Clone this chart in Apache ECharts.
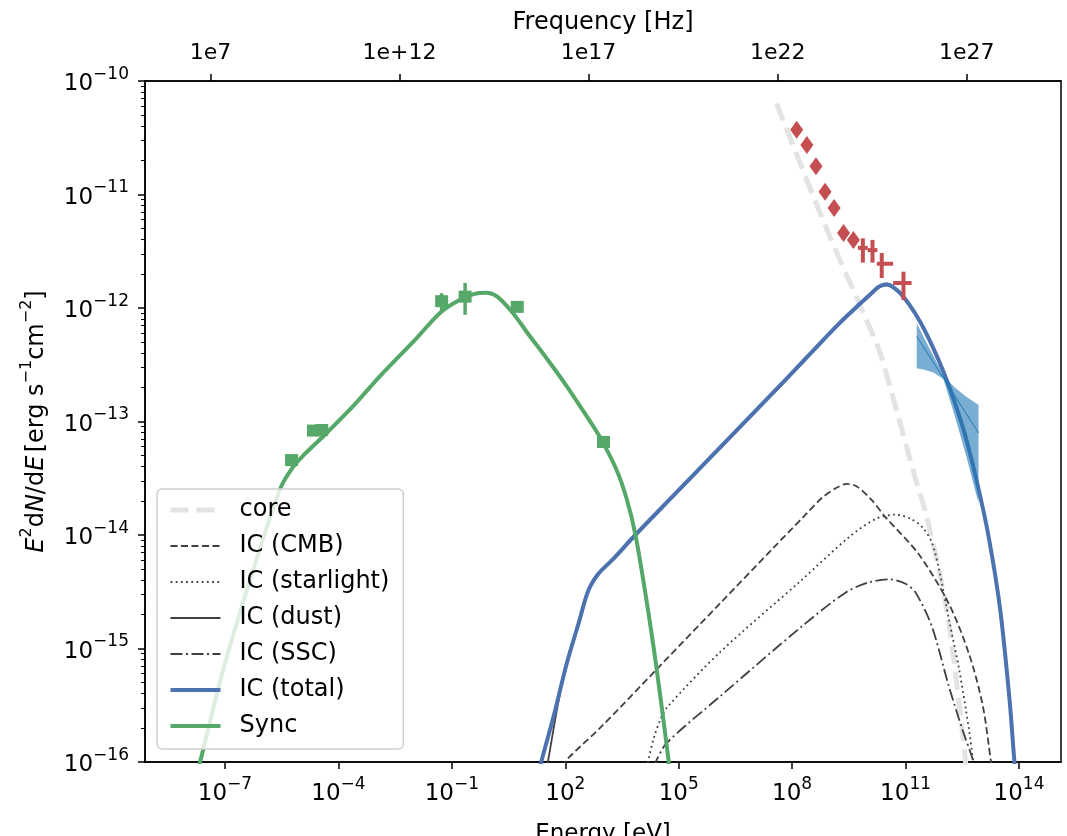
<!DOCTYPE html>
<html>
<head>
<meta charset="utf-8">
<script src="https://cdn.jsdelivr.net/npm/echarts@6/dist/echarts.min.js"></script>
<style>
  html, body { margin: 0; padding: 0; background: #fff; }
  #chart { width: 1067px; height: 836px; }
</style>
</head>
<body>
<div id="chart"></div>
<script>
// all values are log10: energy in eV, flux E^2 dN/dE in erg s^-1 cm^-2
const xRange = [-9.116, 15.111];
const yRange = [-16, -10];
const energyTicks = [-7, -4, -1, 2, 5, 8, 11, 14];
const freqTicks = [7, 12, 17, 22, 27];
const freqLabels = ['1e7', '1e+12', '1e17', '1e22', '1e27'];
const log10h = Math.log10(4.135667696e-15); // eV s

const syncE = [-7.75, -7.66, -7.05, -6.34, -5.55, -5.2, -4.9, -4.4, -3.6, -2.9, -2.0, -1.3, -0.8, -0.4, -0.1, 0.2, 0.63, 1.0, 1.5, 2.0, 2.5, 2.92, 3.36, 3.63, 3.85, 4.16, 4.42, 4.73, 4.76];
const syncF = [-16.1, -16.0, -15.19, -14.4, -13.6, -13.4, -13.29, -13.13, -12.86, -12.6, -12.29, -12.04, -11.93, -11.875, -11.865, -11.9, -12.05, -12.22, -12.44, -12.67, -12.92, -13.14, -13.43, -13.69, -13.99, -14.6, -15.19, -15.98, -16.1];

const icTotalE = [1.3, 1.38, 1.69, 2.04, 2.35, 2.61, 2.88, 3.27, 3.85, 5.48, 7.86, 9.2, 9.8, 10.1, 10.3, 10.5, 10.8, 11.1, 11.4, 11.7, 12.0, 12.3, 12.6, 12.9, 13.2, 13.5, 13.75, 13.88, 13.92];
const icTotalF = [-16.1, -15.98, -15.6, -15.13, -14.78, -14.49, -14.34, -14.21, -14.0, -13.44, -12.62, -12.15, -11.96, -11.87, -11.81, -11.79, -11.85, -11.97, -12.13, -12.33, -12.56, -12.83, -13.15, -13.55, -14.02, -14.65, -15.45, -16.0, -16.1];

const icDustE = [1.5, 1.55, 1.95, 2.35, 2.61, 2.88, 3.27, 3.85, 5.48, 7.86, 9.2, 9.8, 10.1, 10.3, 10.5, 10.8, 11.1, 11.4, 11.7, 12.0, 12.3, 12.6, 12.9, 13.2, 13.5, 13.75, 13.88, 13.92];
const icDustF = [-16.1, -15.98, -15.25, -14.8, -14.5, -14.35, -14.22, -14.01, -13.45, -12.63, -12.16, -11.97, -11.88, -11.82, -11.8, -11.86, -11.98, -12.14, -12.34, -12.57, -12.84, -13.16, -13.56, -14.03, -14.66, -15.46, -16.0, -16.1];

const icCmbE = [1.95, 2.04, 2.92, 4.5, 6.1, 7.5, 8.3, 8.8, 9.2, 9.44, 9.7, 10.1, 10.46, 11.35, 12.15, 12.68, 13.04, 13.26, 13.3];
const icCmbF = [-16.05, -15.98, -15.7, -15.155, -14.6, -14.115, -13.84, -13.67, -13.58, -13.55, -13.57, -13.69, -13.84, -14.17, -14.61, -15.05, -15.5, -16.0, -16.1];

const icStarE = [4.15, 4.2, 4.35, 4.51, 4.69, 6.1, 8.24, 9.5, 10.2, 10.74, 11.15, 11.44, 11.7, 11.89, 12.15, 12.42, 12.68, 12.78, 12.8];
const icStarF = [-16.1, -15.98, -15.78, -15.63, -15.52, -15.03, -14.4, -14.02, -13.86, -13.82, -13.86, -13.93, -14.07, -14.31, -14.75, -15.19, -15.72, -15.98, -16.1];

const icSscE = [4.36, 4.42, 4.69, 6.1, 8.24, 9.4, 10.0, 10.56, 11.0, 11.27, 11.7, 12.15, 12.51, 12.78, 12.81];
const icSscF = [-16.05, -15.98, -15.83, -15.42, -14.81, -14.51, -14.42, -14.39, -14.43, -14.51, -14.81, -15.34, -15.72, -15.98, -16.05];

const coreE = [7.59, 8.92, 9.97, 10.33, 11.25, 11.56, 12.09, 12.53, 12.6];
const coreF = [-10.2, -11.31, -12.11, -12.4, -13.49, -13.84, -14.66, -15.81, -16.05];

// radio / optical / x-ray points: E, F, F low, F high
const syncPtE = [-5.24, -4.66, -4.44, -1.27, -0.65, 0.73, 3.01];
const syncPtF = [-13.34, -13.08, -13.075, -11.94, -11.9, -11.99, -13.18];
const syncPtLo = [-13.36, -13.1, -13.1, -12.04, -12.06, -12.03, -13.2];
const syncPtHi = [-13.32, -13.06, -13.05, -11.87, -11.78, -11.96, -13.16];

// gamma-ray points (diamonds)
const latE = [8.12, 8.39, 8.63, 8.87, 9.11, 9.36, 9.62];
const latF = [-10.43, -10.564, -10.75, -10.975, -11.12, -11.34, -11.4];

// gamma-ray points with error bars: E, F, E low, E high, F low, F high
const vheE = [9.87, 10.125, 10.37, 10.945];
const vheF = [-11.47, -11.49, -11.61, -11.78];
const vheELo = [9.74, 9.995, 10.24, 10.67];
const vheEHi = [10.0, 10.255, 10.67, 11.16];
const vheFLo = [-11.6, -11.6, -11.736, -11.93];
const vheFHi = [-11.386, -11.4, -11.515, -11.68];

// butterfly
const bfE = [11.295, 11.5, 11.75, 12.0, 12.3, 12.6, 12.93];
const bfUpper = [-12.135, -12.27, -12.43, -12.595, -12.7, -12.78, -12.855];
const bfLower = [-12.53, -12.545, -12.57, -12.625, -12.95, -13.3, -13.72];
const bfLineE = [11.295, 12.93];
const bfLineF = [-12.25, -13.1];

const FONT = 'DejaVu Sans';
const zip = (a, b) => a.map((v, i) => [v, b[i]]);

const minorTicks = [];
for (let n = -16; n < -10; n++) {
  for (let k = 2; k <= 9; k++) minorTicks.push(n + Math.log10(k));
}

const supRich = {
  m: { fontSize: 23, fontFamily: FONT, color: '#000', lineHeight: 30, verticalAlign: 'bottom' },
  s: { fontSize: 17, fontFamily: FONT, color: '#000', lineHeight: 17, verticalAlign: 'top' }
};
const powLabel = v => '{m|10}{s|' + String(Math.round(v)).replace('-', '\u2212') + '}';

const chart = echarts.init(document.getElementById('chart'));

const thin = '#404040';
const styles = {
  'core': { color: '#e3e3e3', width: 5, type: [18, 8] },
  'IC (CMB)': { color: thin, width: 1.8, type: [7, 3.5] },
  'IC (starlight)': { color: thin, width: 1.8, type: [1.8, 3.4] },
  'IC (dust)': { color: thin, width: 1.8, type: 'solid' },
  'IC (SSC)': { color: thin, width: 1.8, type: [12, 3.5, 2, 3.5] },
  'IC (total)': { color: '#4c72b0', width: 4, type: 'solid' },
  'Sync': { color: '#55a868', width: 4, type: 'solid' }
};

const lineSeries = (name, e, f, z) => ({
  name: name,
  type: 'line',
  data: zip(e, f),
  symbol: 'none',
  smooth: 0.3,
  clip: true,
  z: z,
  lineStyle: Object.assign({ cap: 'butt' }, styles[name]),
  itemStyle: { color: styles[name].color }
});

const errorBars = (color, width) => (params, api) => {
  const x = api.value(0), y = api.value(1);
  const children = [];
  const v1 = api.coord([x, api.value(2)]), v2 = api.coord([x, api.value(3)]);
  children.push({ type: 'line', shape: { x1: v1[0], y1: v1[1], x2: v2[0], y2: v2[1] }, style: { stroke: color, lineWidth: width } });
  if (api.value(4) !== api.value(5)) {
    const h1 = api.coord([api.value(4), y]), h2 = api.coord([api.value(5), y]);
    children.push({ type: 'line', shape: { x1: h1[0], y1: h1[1], x2: h2[0], y2: h2[1] }, style: { stroke: color, lineWidth: width } });
  }
  return { type: 'group', children: children };
};

const legendNames = ['core', 'IC (CMB)', 'IC (starlight)', 'IC (dust)', 'IC (SSC)', 'IC (total)', 'Sync'];

const option = {
  animation: false,
  backgroundColor: '#fff',
  grid: {
    left: 145, right: 6, top: 81, bottom: 74,
    outerBoundsMode: 'none',
    show: true, borderColor: '#000', borderWidth: 1.5, backgroundColor: 'transparent'
  },
  legend: {
    orient: 'vertical',
    left: 157, top: 489,
    itemWidth: 50, itemHeight: 22, itemGap: 12,
    padding: [9, 14, 11, 11],
    backgroundColor: 'rgba(255,255,255,0.8)',
    borderColor: '#d0d0d0', borderWidth: 1.5, borderRadius: 5,
    itemStyle: { opacity: 0 },
    textStyle: { fontSize: 24, lineHeight: 22, fontFamily: FONT, color: '#000', padding: [0, 0, 0, 14] },
    data: legendNames.map(n => ({ name: n, lineStyle: styles[n], itemStyle: { opacity: 0 } }))
  },
  xAxis: [
    {
      type: 'value', position: 'bottom', min: xRange[0], max: xRange[1],
      name: 'Energy [eV]', nameLocation: 'middle', nameGap: 61,
      nameTextStyle: { fontSize: 23, fontFamily: FONT, color: '#000' },
      axisLine: { onZero: false, lineStyle: { color: '#000', width: 1.5 } },
      axisTick: { customValues: energyTicks, length: 7, lineStyle: { color: '#000', width: 1.5 } },
      axisLabel: { customValues: energyTicks, margin: 14, formatter: powLabel, rich: supRich },
      splitLine: { show: false }
    },
    {
      type: 'value', position: 'top', min: xRange[0], max: xRange[1],
      name: 'Frequency [Hz]', nameLocation: 'middle', nameGap: 46,
      nameTextStyle: { fontSize: 24, fontFamily: FONT, color: '#000' },
      axisLine: { onZero: false, lineStyle: { color: '#000', width: 1.5 } },
      axisTick: { customValues: freqTicks.map(n => n + log10h), length: 7, lineStyle: { color: '#000', width: 1.5 } },
      axisLabel: {
        customValues: freqTicks.map(n => n + log10h), margin: 17,
        fontSize: 22, fontFamily: FONT, color: '#000',
        formatter: v => freqLabels[freqTicks.indexOf(Math.round(v - log10h))]
      },
      splitLine: { show: false }
    }
  ],
  yAxis: [
    {
      type: 'value', position: 'left', min: yRange[0], max: yRange[1], interval: 1,
      name: '{i|E}{s|2}{n|d}{i|N}{n|/d}{i|E} {n|[erg s}{s|\u22121}{n|cm}{s|\u22122}{n|]}',
      nameLocation: 'middle', nameGap: 96, nameRotate: 90,
      nameTextStyle: {
        rich: {
          n: { fontSize: 24, fontFamily: FONT, color: '#000', lineHeight: 30, verticalAlign: 'bottom' },
          i: { fontSize: 24, fontFamily: FONT, fontStyle: 'italic', color: '#000', lineHeight: 30, verticalAlign: 'bottom' },
          s: { fontSize: 16, fontFamily: FONT, color: '#000', lineHeight: 16, verticalAlign: 'top' }
        }
      },
      axisLine: { show: true, onZero: false, lineStyle: { color: '#000', width: 1.5 } },
      axisTick: { length: 7, lineStyle: { color: '#000', width: 1.5 } },
      axisLabel: { margin: 16, formatter: powLabel, rich: supRich },
      splitLine: { show: false }
    },
    {
      type: 'value', position: 'left', min: yRange[0], max: yRange[1],
      axisLine: { show: false, onZero: false },
      axisTick: { customValues: minorTicks, length: 4, lineStyle: { color: '#000', width: 1 } },
      axisLabel: { show: false },
      splitLine: { show: false }
    }
  ],
  series: [
    lineSeries('core', coreE, coreF, 1),
    lineSeries('IC (CMB)', icCmbE, icCmbF, 2),
    lineSeries('IC (starlight)', icStarE, icStarF, 2),
    lineSeries('IC (dust)', icDustE, icDustF, 2),
    lineSeries('IC (SSC)', icSscE, icSscF, 2),
    lineSeries('IC (total)', icTotalE, icTotalF, 3),
    lineSeries('Sync', syncE, syncF, 3),
    {
      name: 'butterfly', type: 'custom', z: 5,
      data: [[bfE[0], bfUpper[0]]],
      renderItem: (params, api) => {
        const pts = bfE.map((e, i) => api.coord([e, bfUpper[i]]))
          .concat(bfE.slice().reverse().map((e, i) => api.coord([e, bfLower[bfE.length - 1 - i]])));
        return { type: 'polygon', shape: { points: pts }, style: { fill: 'rgba(31,119,180,0.6)' } };
      }
    },
    {
      name: 'butterfly line', type: 'line', z: 6, data: zip(bfLineE, bfLineF),
      symbol: 'none', lineStyle: { color: '#1f77b4', width: 1 }
    },
    {
      name: 'sync error', type: 'custom', z: 7,
      data: syncPtE.map((e, i) => [e, syncPtF[i], syncPtLo[i], syncPtHi[i], e, e]),
      renderItem: errorBars('#55a868', 3.5)
    },
    {
      name: 'sync points', type: 'scatter', z: 8,
      data: zip(syncPtE, syncPtF), symbol: 'rect', symbolSize: [13, 12],
      itemStyle: { color: '#55a868', opacity: 1 }
    },
    {
      name: 'lat points', type: 'scatter', z: 8,
      data: zip(latE, latF), symbol: 'diamond', symbolSize: [13, 18],
      itemStyle: { color: '#c44e52', opacity: 1 }
    },
    {
      name: 'vhe error', type: 'custom', z: 7,
      data: vheE.map((e, i) => [e, vheF[i], vheFLo[i], vheFHi[i], vheELo[i], vheEHi[i]]),
      renderItem: errorBars('#c44e52', 4)
    }
  ]
};

chart.setOption(option);
</script>
</body>
</html>
